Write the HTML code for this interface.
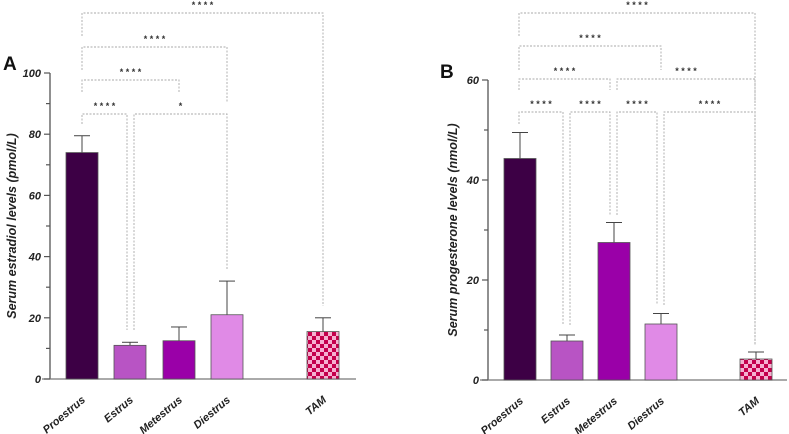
<!DOCTYPE html>
<html><head><meta charset="utf-8"><style>
html,body{margin:0;padding:0;background:#fff;width:789px;height:434px;overflow:hidden}
text{font-family:"Liberation Sans",sans-serif}
</style></head><body>
<svg id="chart" width="789" height="434" viewBox="0 0 789 434" xmlns="http://www.w3.org/2000/svg">
<defs>
<pattern id="chk" width="8" height="8" patternUnits="userSpaceOnUse">
<rect width="8" height="8" fill="#f5b0d0"/>
<rect width="4" height="4" fill="#c4004c"/>
<rect x="4" y="4" width="4" height="4" fill="#c4004c"/>
</pattern>
</defs>
</svg>
<script>
const categories=["Proestrus","Estrus","Metestrus","Diestrus","TAM"];
const estradiolMeans=[74,11,12.5,21,15.5];
const estradiolErr=[5.5,1,4.5,11,4.5];
const progesteroneMeans=[44.3,7.8,27.5,11.2,4.2];
const progesteroneErr=[5.2,1.2,4,2.1,1.4];
const estradiolTicks=[0,20,40,60,80,100];
const progesteroneTicks=[0,20,40,60];
const colors=["#3d0045","#b854c4","#9a00a8","#e08ae6","url(#chk)"];
const NS="http://www.w3.org/2000/svg";
const svg=document.getElementById('chart');
function mk(tag,attrs,parent){const e=document.createElementNS(NS,tag);for(const k in attrs)e.setAttribute(k,attrs[k]);(parent||svg).appendChild(e);return e;}

function panel(cfg){
  const g=mk('g',{});
  
  
  const y=v=>cfg.y0-(v/cfg.max)*(cfg.y0-cfg.yTop);
  const xc=i=>cfg.xs[i]+16;
  const ax=mk('line',{x1:cfg.axX,y1:cfg.yTop,x2:cfg.axX,y2:cfg.y0,stroke:'#555','stroke-width':1.3},g);
  
  const bx=mk('line',{x1:cfg.axX-8,y1:cfg.y0,x2:cfg.xEnd,y2:cfg.y0,stroke:'#777','stroke-width':1.3},g);
  
  for(let v=0;v<=cfg.max;v+=cfg.minor){
    const major=cfg.ticks.includes(v);
    mk('line',{x1:cfg.axX-(major?6:4),y1:y(v),x2:cfg.axX,y2:y(v),stroke:'#555','stroke-width':1.2},g);
  }
  cfg.ticks.forEach(v=>{
    const t=mk('text',{x:cfg.axX-9,y:y(v)+4,'text-anchor':'end','font-size':11,'font-style':'italic','font-weight':'bold',fill:'#222'},g);
    t.textContent=v;
    
  });
  const yt=mk('text',{transform:`translate(${cfg.titleX},${(cfg.y0+cfg.yTop)/2}) rotate(-90)`,'text-anchor':'middle','font-size':12.5,'font-style':'italic','font-weight':'bold',fill:'#222'},g);
  yt.textContent=cfg.title;
  
  const pl=mk('text',{x:cfg.labelX,y:cfg.labelY,'font-size':19,'font-weight':'bold',fill:'#111'},g);
  pl.textContent=cfg.letter;
  
  categories.forEach((c,i)=>{
    const top=y(cfg.means[i]);
    const eb=y(cfg.means[i]+cfg.err[i]);
    mk('line',{x1:xc(i),y1:top,x2:xc(i),y2:eb,stroke:'#444','stroke-width':1},g);
    mk('line',{x1:xc(i)-8,y1:eb,x2:xc(i)+8,y2:eb,stroke:'#444','stroke-width':1},g);
    const r=mk('rect',{x:cfg.xs[i],y:top,width:32,height:cfg.y0-top,fill:colors[i],stroke:'#555','stroke-width':0.8},g);
    
    const lx=xc(i)+4,ly=cfg.y0+22;
    const t=mk('text',{transform:`translate(${lx},${ly}) rotate(-40)`,'text-anchor':'end','font-size':11,'font-style':'italic','font-weight':'bold',fill:'#222'},g);
    t.textContent=c;
    
  });
  cfg.brackets.forEach(b=>{
    const x1=b[0],x2=b[1],by=b[2],d1=b[3],d2=b[4],s=b[5];
    mk('path',{d:`M${x1},${d1}V${by}H${x2}V${d2}`,fill:'none',stroke:'#aaa','stroke-width':0.9,'stroke-dasharray':'2,1.5'},g);
    const t=mk('text',{x:(x1+x2)/2,y:by-5,'text-anchor':'middle','font-size':9,'font-weight':'bold',fill:'#333','font-family':'DejaVu Sans, sans-serif'},g);
    t.textContent=s.split('').join(' ');
    
  });
}
panel({name:'panel-a-estradiol',letter:'A',labelX:3,labelY:70,axX:50,y0:379,yTop:73,max:100,minor:10,xEnd:356,
  xs:[66,114,163,211,307],means:estradiolMeans,err:estradiolErr,ticks:estradiolTicks,
  title:'Serum estradiol levels (pmol/L)',titleX:16,
  brackets:[[82,323,13,36,306,'****'],[82,227,47,70,103,'****'],[82,179,80,92,92,'****'],[82,127,114,124,330,'****'],[134,227,114,330,270,'*']]});
panel({name:'panel-b-progesterone',letter:'B',labelX:440,labelY:78,axX:488,y0:380,yTop:80,max:60,minor:10,xEnd:787,
  xs:[504,551,598,645,740],means:progesteroneMeans,err:progesteroneErr,ticks:progesteroneTicks,
  title:'Serum progesterone levels (nmol/L)',titleX:457,
  brackets:[[519,755,13,36,345,'****'],[519,661,46,70,70,'****'],[519,610,79,90,90,'****'],[617,755,79,90,103,'****'],[519,563,112,124,325,'****'],[570,610,112,325,215,'****'],[617,657,112,215,305,'****'],[664,755,112,305,345,'****']]});
</script>
</body></html>
